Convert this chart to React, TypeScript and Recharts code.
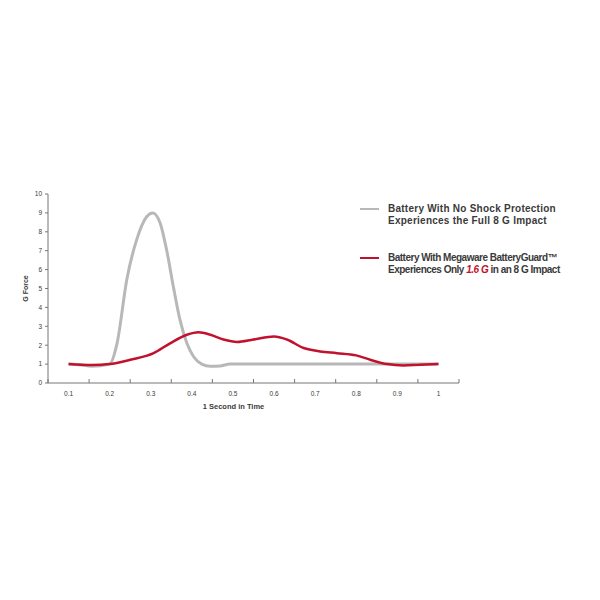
import React from "react";
import { LineChart, Line, XAxis, YAxis, Legend } from "recharts";

const grayX = [0.1, 0.13, 0.157, 0.2, 0.218, 0.242, 0.266, 0.29, 0.305, 0.323, 0.339, 0.355, 0.371, 0.388, 0.404, 0.424, 0.445, 0.469, 0.493, 0.55, 0.7, 0.85, 1.0];
const grayY = [1.0, 0.95, 0.88, 1.0, 2.1, 5.5, 7.6, 8.8, 9.0, 8.45, 7.0, 5.1, 3.35, 2.1, 1.4, 1.0, 0.88, 0.9, 1.0, 1.0, 1.0, 1.0, 1.0];
const redX = [0.1, 0.157, 0.2, 0.25, 0.307, 0.347, 0.388, 0.416, 0.445, 0.477, 0.51, 0.55, 0.6, 0.631, 0.672, 0.712, 0.753, 0.8, 0.834, 0.875, 0.915, 0.955, 1.0];
const redY = [1.0, 0.95, 1.0, 1.23, 1.58, 2.1, 2.55, 2.68, 2.55, 2.3, 2.17, 2.3, 2.46, 2.3, 1.85, 1.67, 1.58, 1.46, 1.23, 1.0, 0.93, 0.97, 1.0];
const xTickLabels = ["0.1", "0.2", "0.3", "0.4", "0.5", "0.6", "0.7", "0.8", "0.9", "1"];
const xTicks = [0.05, 0.1, 0.15, 0.2, 0.25, 0.3, 0.35, 0.4, 0.45, 0.5, 0.55, 0.6, 0.65, 0.7, 0.75, 0.8, 0.85, 0.9, 0.95, 1.0, 1.05];
const yTicks = [0, 1, 2, 3, 4, 5, 6, 7, 8, 9, 10];
const seriesNames = ["Battery With No Shock Protection", "Battery With Megaware BatteryGuard\u2122"];

const grayData = grayX.map((x, i) => ({ x, y: grayY[i] }));
const redData = redX.map((x, i) => ({ x, y: redY[i] }));

const GRAY = "#b8b8b8";
const RED = "#c0122c";
const TEXT = "#3a3a3a";
const FONT = "'Liberation Sans', Arial, sans-serif";

const XTick = (props: any) => {
  const { x, y, index } = props;
  if (index % 2 === 0) {
    return <line x1={x} x2={x} y1={y - 4} y2={y} stroke="#777" strokeWidth={1} />;
  }
  return (
    <text x={x} y={y} dy={13} textAnchor="middle" fontSize={6.5} fill={TEXT} fontFamily={FONT}>
      {xTickLabels[(index - 1) / 2]}
    </text>
  );
};

const LegendContent = () => (
  <div style={{ fontFamily: FONT, fontSize: 10, fontWeight: 700, color: TEXT, lineHeight: "12px", textAlign: "left", whiteSpace: "nowrap" }}>
    <div style={{ display: "flex", alignItems: "flex-start", letterSpacing: 0.25 }}>
      <div style={{ width: 19, height: 2, background: GRAY, marginTop: 5, marginRight: 9 }} />
      <div>
        <div>{seriesNames[0]}</div>
        <div>Experiences the Full 8 G Impact</div>
      </div>
    </div>
    <div style={{ display: "flex", alignItems: "flex-start", marginTop: 25, letterSpacing: -0.5 }}>
      <div style={{ width: 19, height: 2, background: RED, marginTop: 5, marginRight: 9 }} />
      <div>
        <div>{seriesNames[1]}</div>
        <div>
          Experiences Only <span style={{ color: RED, fontStyle: "italic" }}>1.6 G</span> in an 8 G Impact
        </div>
      </div>
    </div>
  </div>
);

export default function App() {
  return (
    <div style={{ width: 592, height: 592, background: "#fff" }}>
      <LineChart width={592} height={592} margin={{ top: 186, right: 141, bottom: 187, left: 10 }}>
        <XAxis
          dataKey="x"
          type="number"
          domain={[0.05, 1.05]}
          ticks={xTicks}
          interval={0}
          tickLine={false}
          tickSize={0}
          tickMargin={0}
          tick={<XTick />}
          axisLine={{ stroke: "#777", strokeWidth: 1 }}
          height={30}
          allowDuplicatedCategory={false}
          label={{ value: "1 Second in Time", position: "insideBottom", offset: 4, dx: -20, fontSize: 7.5, fontWeight: 700, fill: TEXT, fontFamily: FONT }}
        />
        <YAxis
          type="number"
          domain={[0, 10]}
          ticks={yTicks}
          interval={0}
          width={30}
          tickSize={3}
          tickMargin={3}
          tickLine={{ stroke: "#777" }}
          axisLine={{ stroke: "#777", strokeWidth: 1 }}
          tick={{ fontSize: 6.5, fill: TEXT, fontFamily: FONT }}
          label={{ value: "G Force", angle: -90, position: "insideLeft", offset: 8, fontSize: 7, fontWeight: 700, fill: TEXT, fontFamily: FONT, style: { textAnchor: "middle" } }}
        />
        <Legend
          content={<LegendContent />}
          layout="vertical"
          align="center"
          verticalAlign="middle"
          wrapperStyle={{ position: "absolute", left: 352, top: 195, width: 240 }}
        />
        <Line data={grayData} dataKey="y" type="monotone" stroke={GRAY} strokeWidth={3} dot={false} isAnimationActive={false} />
        <Line data={redData} dataKey="y" type="monotone" stroke={RED} strokeWidth={2.5} dot={false} isAnimationActive={false} />
      </LineChart>
    </div>
  );
}
